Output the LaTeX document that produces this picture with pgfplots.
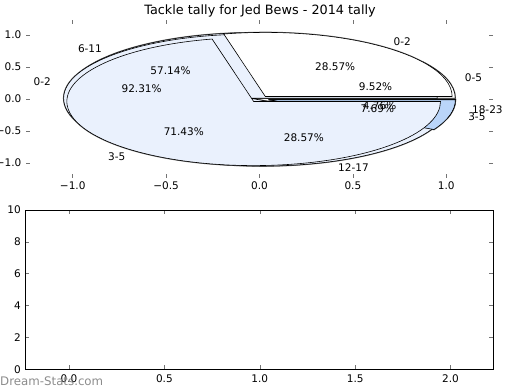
\documentclass[border=0pt]{standalone}
\usepackage{pgfplots}
\pgfplotsset{compat=1.18}
\usepackage{fontspec}
\setmainfont{DejaVu Sans}
\definecolor{lightb}{HTML}{EAF1FD}
\definecolor{darkb}{HTML}{BAD5F9}
\tikzset{pielab/.style={inner sep=0pt,font=\fontsize{10.5bp}{12bp}\selectfont}}
% wedge: #1 cumulative start count, #2 count, #3 total, #4 fill, #5 style
\newcommand\pw[5]{%
  \pgfmathsetmacro\pwa{360*#1/#3}%
  \pgfmathsetmacro\pwb{360*(#1+#2)/#3}%
  \pgfmathsetmacro\pwm{(\pwa+\pwb)/2}%
  \pgfmathsetmacro\pwcx{0.05*cos(\pwm)}%
  \pgfmathsetmacro\pwcy{0.05*sin(\pwm)}%
  \pgfmathsetmacro\pwsx{\pwcx+cos(\pwa)}%
  \pgfmathsetmacro\pwsy{\pwcy+sin(\pwa)}%
  \edef\pwtmp{\noexpand\path[fill=#4,#5] (axis cs:\pwcx,\pwcy) -- (axis cs:\pwsx,\pwsy) arc[start angle=\pwa,end angle=\pwb,x radius=186.8bp,y radius=64.08bp] -- cycle;}%
  \pwtmp
}
% labels: #1 start, #2 count, #3 total, #4 label, #5 percent text
\newcommand\plab[5]{%
  \pgfmathsetmacro\pwa{360*#1/#3}%
  \pgfmathsetmacro\pwb{360*(#1+#2)/#3}%
  \pgfmathsetmacro\pwm{(\pwa+\pwb)/2}%
  \pgfmathsetmacro\plx{1.15*cos(\pwm)}%
  \pgfmathsetmacro\ply{1.15*sin(\pwm)}%
  \pgfmathsetmacro\ppx{0.65*cos(\pwm)}%
  \pgfmathsetmacro\ppy{0.65*sin(\pwm)}%
  \edef\pwtmp{\noexpand\node[pielab,anchor=\ifdim\plx pt>0pt west\else east\fi] at (axis cs:\plx,\ply) {\unexpanded{#4}};
    \noexpand\node[pielab] at (axis cs:\ppx,\ppy) {\unexpanded{#5}};}%
  \pwtmp
}
\newcommand\allwedges[2]{%
  % pie of 21 (0-5, 6-11, 12-17, 18-23)
  \pw{0}{2}{21}{#1white}{#2}\pw{2}{12}{21}{#1lightb}{#2}\pw{14}{6}{21}{#1lightb}{#2}\pw{20}{1}{21}{#1darkb}{#2}%
  % pie of 13 (0-2, 3-5)
  \pw{0}{12}{13}{#1lightb}{#2}\pw{12}{1}{13}{#1darkb}{#2}%
  % pie of 7 (0-2, 3-5)
  \pw{0}{2}{7}{#1white}{#2}\pw{2}{5}{7}{#1lightb}{#2}%
}
\begin{document}
\begin{tikzpicture}[x=1bp,y=1bp]
\useasboundingbox (0,0) rectangle (520,390);
\begin{axis}[at={(26bp,212.5bp)}, anchor=south west, scale only axis,
  width=467bp, height=157bp,
  xmin=-1.25, xmax=1.25, ymin=-1.225, ymax=1.225,
  axis line style={draw=none},
  tick align=inside, major tick length=4bp,
  tick style={black!55, line width=0.5bp},
  xtick={-1,-0.5,0,0.5,1}, xticklabels={−1.0,−0.5,0.0,0.5,1.0},
  ytick={-1,-0.5,0,0.5,1}, yticklabels={−1.0,−0.5,0.0,0.5,1.0},
  tick label style={font=\fontsize{10.5bp}{12bp}\selectfont, inner sep=0pt},
  xticklabel style={anchor=north, yshift=-4.3bp},
  yticklabel style={anchor=east, xshift=-4.5bp},
  clip=false]
  % shadows
  \pw{0}{2}{21}{none}{draw=black!60,line width=1.4bp}\pw{2}{12}{21}{none}{draw=black!60,line width=1.4bp}\pw{14}{6}{21}{none}{draw=black!60,line width=1.4bp}\pw{20}{1}{21}{none}{draw=black!60,line width=1.4bp}
  \pw{0}{12}{13}{none}{draw=black!60,line width=1.4bp}\pw{12}{1}{13}{none}{draw=black!60,line width=1.4bp}
  \pw{0}{2}{7}{none}{draw=black!60,line width=1.4bp}\pw{2}{5}{7}{none}{draw=black!60,line width=1.4bp}
  % wedges: pie of 21
  \pw{0}{2}{21}{white}{draw=black,line width=0.6bp}
  \pw{2}{12}{21}{lightb}{draw=black,line width=0.6bp}
  \pw{14}{6}{21}{lightb}{draw=black,line width=0.6bp}
  \pw{20}{1}{21}{darkb}{draw=black,line width=0.6bp}
  % pie of 13
  \pw{0}{12}{13}{lightb}{draw=black,line width=0.6bp}
  \pw{12}{1}{13}{darkb}{draw=black,line width=0.6bp}
  % pie of 7
  \pw{0}{2}{7}{white}{draw=black,line width=0.6bp}
  \pw{2}{5}{7}{lightb}{draw=black,line width=0.6bp}
  % labels
  \plab{0}{2}{21}{0-5}{9.52\%}
  \plab{2}{12}{21}{6-11}{57.14\%}
  \plab{14}{6}{21}{12-17}{28.57\%}
  \plab{20}{1}{21}{18-23}{4.76\%}
  \plab{0}{12}{13}{0-2}{92.31\%}
  \plab{12}{1}{13}{3-5}{7.69\%}
  \plab{0}{2}{7}{0-2}{28.57\%}
  \plab{2}{5}{7}{3-5}{71.43\%}
\end{axis}
\begin{axis}[at={(25bp,20.7bp)}, anchor=south west, scale only axis,
  width=468.3bp, height=159.3bp,
  xmin=-0.2306, xmax=2.224, ymin=0, ymax=10,
  axis line style={black, line width=0.8bp},
  tick align=inside, major tick length=4bp,
  tick style={black!55, line width=0.5bp},
  xtick={0,0.5,1,1.5,2}, xticklabels={0.0,0.5,1.0,1.5,2.0},
  ytick={0,2,4,6,8,10}, yticklabels={0,2,4,6,8,10},
  tick label style={font=\fontsize{10.5bp}{12bp}\selectfont, inner sep=0pt},
  xticklabel style={anchor=north, yshift=-5.5bp},
  yticklabel style={anchor=east, xshift=-4bp}]
\end{axis}
\node[anchor=base, inner sep=0pt, font=\fontsize{12.8bp}{14bp}\selectfont] at (260,376) {Tackle tally for Jed Bews - 2014 tally};
\node[anchor=base west, inner sep=0pt, text=black!45, font=\fontsize{11.8bp}{13bp}\selectfont] at (0,5) {Dream-Stats.com};
\end{tikzpicture}
\end{document}
